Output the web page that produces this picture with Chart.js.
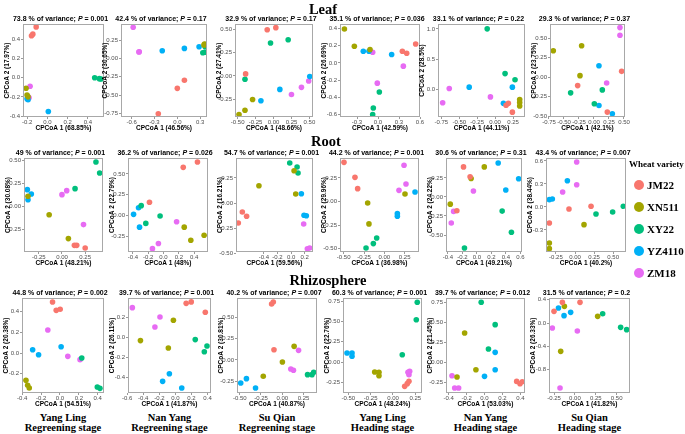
<!DOCTYPE html>
<html>
<head>
<meta charset="utf-8">
<script src="https://cdn.jsdelivr.net/npm/chart.js@4.4.1/dist/chart.umd.min.js"></script>
<style>
body { margin: 0; background: #fff; }
#wrap { position: relative; width: 685px; height: 434px; overflow: hidden; }
.panel { position: absolute; }
.sub { position: absolute; font: bold 7px "Liberation Sans", Arial, sans-serif; text-align: center; white-space: nowrap; line-height: 8px; }
.row { position: absolute; font: bold 14.5px "Liberation Serif", serif; text-align: center; width: 120px; line-height: 16px; }
.site { position: absolute; font: bold 10.5px "Liberation Serif", serif; text-align: center; width: 110px; line-height: 9.5px; }
.leg { position: absolute; font: bold 11px "Liberation Serif", serif; white-space: nowrap; line-height: 12px; }
.dot { position: absolute; width: 10px; height: 10px; border-radius: 50%; }
</style>
</head>
<body>
<div id="wrap"></div>
<script>
const varieties = ['JM22', 'XN511', 'XY22', 'YZ4110', 'ZM18'];
const colors = ['#F8766D', '#A3A500', '#00BF7D', '#00B0F6', '#E76BF3'];

const compartments = ['Leaf', 'Root', 'Rhizosphere'];
const sites = ['Yang Ling', 'Nan Yang', 'Su Qian', 'Yang Ling', 'Nan Yang', 'Su Qian'];
const stages = ['Regreening stage', 'Regreening stage', 'Regreening stage', 'Heading stage', 'Heading stage', 'Heading stage'];

// per variety: [[x, y], ...] in the order of varieties
const leafYLR = [
  [[-0.11, 0.53], [-0.143, 0.454], [-0.156, 0.437]],
  [[-0.21, -0.11], [-0.2, -0.18], [-0.19, -0.2]],
  [[0.468, 0.0], [0.514, -0.01], [0.53, -0.014]],
  [[-0.2, -0.22], [-0.19, -0.23], [0.01, -0.353]],
  [[-0.17, -0.09], [-0.18, -0.21], [-0.19, -0.2]]
];
const leafNYR = [
  [[0.093, -0.298], [0, -0.408], [-0.25, -0.757]],
  [[0.357, 0.197], [0.36, 0.19], [0.35, 0.185]],
  [[0.335, 0.078], [0.366, 0.16], [0.36, 0.085]],
  [[-0.198, 0.106], [0.093, 0.138], [0.286, 0.16]],
  [[-0.58, 0.427], [-0.5, 0.092], [-0.505, 0.09]]
];
const leafSQR = [
  [[-0.088, 0.496], [0.032, 0.518], [-0.389, 0.022]],
  [[-0.292, -0.252], [-0.398, -0.367], [-0.481, -0.414]],
  [[-0.042, 0.353], [0.204, 0.388], [-0.398, -0.036]],
  [[0.505, -0.007], [0.088, -0.144], [-0.176, -0.266]],
  [[0.49, -0.054], [0.389, -0.122], [0.25, -0.198]]
];
const leafYLH = [
  [[0.348, 0.135], [0.41, 0.112], [0.538, 0.219]],
  [[-0.48, 0.392], [-0.338, 0.192], [-0.114, 0.154]],
  [[0.019, -0.338], [-0.067, -0.523], [-0.076, -0.6]],
  [[-0.21, 0.135], [-0.129, 0.135], [0.195, 0.096]],
  [[-0.076, 0.123], [0.362, -0.038], [-0.01, -0.235]]
];
const leafNYH = [
  [[0.185, -0.223], [0.153, -0.255], [0.241, -0.367]],
  [[0.343, -0.16], [0.343, -0.266], [0.343, -0.21]],
  [[-0.11, 1.0], [0.139, 0.266], [0.278, 0.165]],
  [[-0.361, 0.043], [0.241, 0.043], [0.116, -0.223]],
  [[-0.639, 0.021], [-0.731, -0.213], [-0.065, -0.117]]
];
const leafSQH = [
  [[0.461, 0.076], [-0.272, -0.106], [0.222, -0.445]],
  [[-0.678, 0.339], [-0.206, 0.403], [-0.233, 0.021]],
  [[0.139, -0.161], [-0.389, -0.199], [0.006, -0.339]],
  [[0.083, 0.148], [0.083, -0.36], [0.306, -0.466]],
  [[0.433, 0.636], [0.433, 0.538], [0.211, -0.072]]
];
const rootYLR = [
  [[0.134, -0.429], [0.159, -0.429], [0.25, -0.458]],
  [[-0.366, 0.11], [-0.138, -0.092], [0.069, -0.355]],
  [[0.366, 0.487], [0.406, 0.366], [0.141, 0.194]],
  [[-0.373, 0.183], [-0.33, 0.136], [-0.366, 0.073]],
  [[0, 0.128], [0.051, 0.172], [0.232, -0.201]]
];
const rootNYR = [
  [[0.258, 0.578], [0.444, 0.643], [-0.184, 0.161]],
  [[0.271, -0.137], [0.531, -0.233], [0.357, -0.293]],
  [[-0.292, 0.12], [-0.045, -0.004], [-0.232, -0.092]],
  [[-0.392, 0.016], [-0.327, 0.096], [-0.314, -0.137]],
  [[0.171, -0.072], [-0.067, -0.333], [-0.145, -0.394]]
];
const rootSQR = [
  [[-0.717, -0.09], [-0.654, -0.133], [-0.776, -0.2]],
  [[0.044, 0.323], [-0.473, 0.173], [0.068, 0.09]],
  [[-0.02, 0.4], [0.088, 0.36], [0.102, 0.3]],
  [[0.151, 0.093], [0.19, -0.123], [0.224, -0.127]],
  [[0.185, -0.21], [0.239, -0.457], [0.273, -0.45]]
];
const rootYLH = [
  [[-0.496, 0.416], [-0.361, 0.257], [-0.328, 0.137]],
  [[0.254, 0.08], [-0.205, -0.015], [-0.189, -0.237]],
  [[-0.094, -0.386], [-0.135, -0.446], [-0.225, -0.492]],
  [[0.377, 0.101], [0.16, -0.128], [0.16, -0.156]],
  [[0.242, 0.385], [0.266, 0.186], [0.18, 0.119]]
];
const rootNYH = [
  [[-0.185, 0.394], [-0.094, 0.264], [-0.277, -0.182]],
  [[0.102, 0.394], [-0.08, 0.242], [-0.368, -0.095]],
  [[0.349, -0.186], [0.477, -0.463], [-0.172, -0.671]],
  [[0.294, 0.446], [0.577, 0.238], [0.399, 0.091]],
  [[-0.048, 0.078], [-0.322, -0.19], [-0.354, -0.342]]
];
const rootSQH = [
  [[0.21, 0.009], [-0.079, -0.026], [-0.336, -0.209]],
  [[0.118, -0.23], [-0.336, -0.47], [-0.336, -0.543]],
  [[0.275, -0.091], [0.493, -0.065], [0.633, 0.009]],
  [[-0.1, 0.343], [-0.297, 0.104], [-0.336, 0.096]],
  [[0.022, 0.587], [0.022, 0.291], [-0.162, 0.196]]
];
const rhizoYLR = [
  [[-0.079, 0.491], [-0.04, 0.411], [0.002, 0.421]],
  [[-0.361, -0.263], [-0.343, -0.311], [-0.326, -0.337]],
  [[0.231, -0.048], [0.396, -0.327], [0.424, -0.34]],
  [[-0.29, 0.032], [-0.227, -0.016], [0.012, 0.061]],
  [[-0.129, 0.222], [0.083, -0.032], [0.213, -0.064]]
];
const rhizoNYR = [
  [[0.134, 0.338], [0.197, 0.352], [0.372, 0.249]],
  [[-0.025, 0.169], [-0.435, -0.033], [-0.088, -0.106]],
  [[0.247, -0.023], [0.393, -0.086], [0.36, -0.143]],
  [[-0.075, -0.362], [-0.159, -0.438], [0.079, -0.504]],
  [[-0.536, 0.295], [-0.192, 0.202], [-0.255, 0.103]]
];
const rhizoSQR = [
  [[-0.105, 0.68], [-0.125, 0.656], [-0.097, 0.121]],
  [[0.14, 0.16], [0.002, -0.023], [-0.223, -0.191]],
  [[0.298, -0.172], [0.35, -0.172], [0.37, -0.145]],
  [[-0.488, -0.27], [-0.421, -0.219], [-0.314, -0.328]],
  [[0.192, 0.113], [0.101, -0.105], [0.132, -0.121]]
];
const rhizoYLH = [
  [[0.131, -0.299], [0.16, -0.266], [0.179, -0.238]],
  [[-0.205, -0.123], [-0.157, -0.168], [-0.157, -0.127]],
  [[0.272, 0.734], [0.261, 0.52], [0.104, 0.09]],
  [[-0.515, 0.111], [-0.459, 0.111], [-0.459, 0.07]],
  [[0.187, -0.115], [0.179, -0.156], [0.168, -0.127]]
];
const rhizoNYH = [
  [[0.359, -0.238], [0.396, -0.267], [0.422, -0.242]],
  [[-0.222, 0.367], [-0.096, -0.092], [-0.307, -0.183]],
  [[-0.037, 0.75], [0.119, 0.471], [0.044, 0.167]],
  [[0.119, 0.125], [0.119, -0.092], [0, -0.175]],
  [[-0.363, -0.167], [-0.333, -0.321], [-0.289, -0.321]]
];
const rhizoSQH = [
  [[-0.15, 0.354], [0.061, 0.354], [-0.25, 0.2]],
  [[-0.126, 0.286], [0.272, 0.114], [-0.17, -0.486]],
  [[0.332, 0.16], [0.547, -0.074], [0.619, -0.114]],
  [[-0.197, 0.257], [-0.051, 0.183], [-0.13, 0.126]],
  [[-0.27, -0.086], [0.029, -0.137], [-0.178, -1.114]]
];

const panels = [leafYLR, leafNYR, leafSQR, leafYLH, leafNYH, leafSQH,
                rootYLR, rootNYR, rootSQR, rootYLH, rootNYH, rootSQH,
                rhizoYLR, rhizoNYR, rhizoSQR, rhizoYLH, rhizoNYH, rhizoSQH];

const variance = ['73.8', '42.4', '32.9', '35.1', '33.1', '29.3',
                  '49', '36.2', '54.7', '44.2', '30.6', '43.4',
                  '44.8', '39.7', '40.2', '60.3', '39.7', '31.5'];
const pValues = ['0.001', '0.17', '0.17', '0.036', '0.22', '0.37',
                 '0.001', '0.026', '0.001', '0.001', '0.31', '0.007',
                 '0.002', '0.001', '0.007', '0.001', '0.012', '0.2'];
const pc1 = ['68.85', '46.56', '48.66', '42.59', '44.11', '42.1',
             '48.21', '48', '59.56', '36.98', '49.21', '40.2',
             '54.51', '41.87', '40.87', '48.24', '53.03', '41.82'];
const pc2 = ['17.97', '30.65', '27.41', '26.69', '28.5', '23.75',
             '30.08', '22.79', '16.21', '29.96', '24.22', '38.44',
             '20.38', '26.11', '30.81', '22.76', '21.45', '26.33'];

const xTicks = [
  [-0.2, 0, 0.2, 0.4], [-0.6, -0.3, 0, 0.3], [-0.5, -0.25, 0, 0.25, 0.5],
  [-0.3, 0, 0.3, 0.6], [-0.75, -0.5, -0.25, 0, 0.25], [-0.75, -0.5, -0.25, 0, 0.25, 0.5],
  [-0.25, 0, 0.25], [-0.4, -0.2, 0, 0.2, 0.4], [-0.4, -0.2, 0, 0.2],
  [-0.5, -0.25, 0, 0.25], [-0.4, -0.2, 0, 0.2, 0.4, 0.6], [-0.25, 0, 0.25, 0.5],
  [-0.4, -0.2, 0, 0.2, 0.4], [-0.6, -0.4, -0.2, 0, 0.2, 0.4], [-0.5, -0.25, 0, 0.25],
  [-0.5, -0.25, 0, 0.25], [-0.4, -0.2, 0, 0.2, 0.4], [-0.25, 0, 0.25, 0.5]
];
const yTicks = [
  [-0.4, -0.2, 0, 0.2, 0.4], [-0.75, -0.5, -0.25, 0, 0.25], [-0.25, 0, 0.25, 0.5],
  [-0.6, -0.4, -0.2, 0, 0.2, 0.4], [0, 0.5, 1], [-0.5, -0.25, 0, 0.25, 0.5],
  [-0.25, 0, 0.25, 0.5], [-0.25, 0, 0.25, 0.5], [-0.5, -0.25, 0, 0.25],
  [-0.5, -0.25, 0, 0.25], [-0.5, -0.25, 0, 0.25], [-0.3, 0, 0.3, 0.6],
  [-0.2, 0, 0.2, 0.4], [-0.4, -0.2, 0, 0.2], [-0.25, 0, 0.25, 0.5],
  [-0.25, 0, 0.25, 0.5, 0.75], [-0.25, 0, 0.25, 0.5, 0.75], [-0.8, -0.4, 0, 0.4]
];
const xLimits = [
  [-0.24, 0.56], [-0.74, 0.39], [-0.537, 0.55], [-0.543, 0.6], [-0.796, 0.417], [-0.733, 0.517],
  [-0.409, 0.442], [-0.465, 0.582], [-0.81, 0.322], [-0.545, 0.426], [-0.427, 0.623], [-0.38, 0.668],
  [-0.403, 0.467], [-0.59, 0.443], [-0.532, 0.409], [-0.56, 0.325], [-0.43, 0.452], [-0.31, 0.659]
];
const yLimits = [
  [-0.41, 0.56], [-0.8, 0.472], [-0.44, 0.557], [-0.627, 0.45], [-0.447, 1.08], [-0.508, 0.682],
  [-0.502, 0.531], [-0.434, 0.69], [-0.49, 0.45], [-0.535, 0.462], [-0.723, 0.511], [-0.587, 0.639],
  [-0.385, 0.53], [-0.554, 0.391], [-0.387, 0.727], [-0.381, 0.787], [-0.383, 0.804], [-1.2, 0.429]
];

// plot boxes in page pixels: left, top, right, bottom
const boxes = [
  [23, 24, 104, 117], [121, 24, 207, 117], [235, 24, 313, 117], [340, 24, 420, 117], [438, 24, 525, 117], [550, 24, 625, 117],
  [24, 158, 103, 252], [128, 158, 208, 252], [236, 158, 313, 252], [340, 158, 419, 252], [446, 158, 522, 252], [546, 158, 626, 252],
  [22, 298, 104, 393], [128, 298, 211, 393], [237, 298, 317, 393], [343, 298, 422, 393], [446, 298, 525, 393], [549, 298, 630, 393]
];

const YW = 20, XH = 15, PT = 5, PR = 8;
const sans = '"Liberation Sans", Arial, sans-serif';
const wrap = document.getElementById('wrap');

const frame = {
  id: 'frame',
  afterDraw(chart) {
    const a = chart.chartArea, c = chart.ctx;
    c.save();
    c.strokeStyle = '#a8a8a8';
    c.lineWidth = 1;
    c.strokeRect(a.left + 0.5, a.top + 0.5, a.right - a.left - 1, a.bottom - a.top - 1);
    c.restore();
  }
};

function axis(lim, ticks, title, horiz) {
  const dec = Math.max(...ticks.map(v => (String(v).split('.')[1] || '').length));
  return {
    type: 'linear',
    min: lim[0],
    max: lim[1],
    afterBuildTicks: s => { s.ticks = ticks.map(v => ({ value: v })); },
    afterFit: s => { if (horiz) s.height = XH; else s.width = YW; },
    ticks: { autoSkip: false, maxRotation: 0, padding: horiz ? 0 : 1, color: '#4d4d4d',
             font: { family: sans, size: 6 }, callback: v => v.toFixed(dec) },
    grid: { drawOnChartArea: false, tickLength: 2, color: '#555', lineWidth: 0.6 },
    border: { display: false },
    title: { display: true, text: title, color: '#000', padding: 0,
             font: { family: sans, size: 6.5, weight: 'bold' } }
  };
}

function makePanel(i) {
  const [l, t, r, b] = boxes[i];
  const div = document.createElement('div');
  div.className = 'panel';
  div.style.left = (l - YW) + 'px';
  div.style.top = (t - PT) + 'px';
  const cv = document.createElement('canvas');
  cv.width = r - l + YW + PR;
  cv.height = b - t + PT + XH;
  div.appendChild(cv);
  wrap.appendChild(div);

  const sub = document.createElement('div');
  sub.className = 'sub';
  sub.style.left = (l - 50) + 'px';
  sub.style.width = (r - l + 94) + 'px';
  sub.style.top = (t - 9.5) + 'px';
  sub.innerHTML = variance[i] + ' % of variance; <i>P</i> = ' + pValues[i];
  wrap.appendChild(sub);

  new Chart(cv, {
    type: 'scatter',
    data: {
      datasets: varieties.map((v, k) => ({
        label: v,
        data: panels[i][k].map(p => ({ x: p[0], y: p[1] })),
        backgroundColor: colors[k],
        borderWidth: 0,
        pointRadius: 2.8,
        pointHoverRadius: 2.8
      }))
    },
    options: {
      responsive: false,
      animation: false,
      layout: { padding: { top: PT, right: PR, left: 0, bottom: 0 } },
      plugins: { legend: { display: false }, tooltip: { enabled: false } },
      scales: {
        x: axis(xLimits[i], xTicks[i], 'CPCoA 1 (' + pc1[i] + '%)', true),
        y: axis(yLimits[i], yTicks[i], 'CPCoA 2 (' + pc2[i] + '%)', false)
      }
    },
    plugins: [frame]
  });
}

for (let i = 0; i < panels.length; i++) makePanel(i);

// row titles
const rowPos = [[323, 1], [326, 133], [328, 272]];
compartments.forEach((name, k) => {
  const d = document.createElement('div');
  d.className = 'row';
  d.style.left = (rowPos[k][0] - 60) + 'px';
  d.style.top = rowPos[k][1] + 'px';
  d.textContent = name;
  wrap.appendChild(d);
});

// site / stage labels under the last row
sites.forEach((s, k) => {
  const [l, , r] = boxes[12 + k];
  const d = document.createElement('div');
  d.className = 'site';
  d.style.left = ((l + r) / 2 - 55) + 'px';
  d.style.top = '413px';
  d.innerHTML = s + '<br>' + stages[k];
  wrap.appendChild(d);
});

// legend
const lt = document.createElement('div');
lt.className = 'leg';
lt.style.left = '629px';
lt.style.top = '158px';
lt.style.fontSize = '9px';
lt.textContent = 'Wheat variety';
wrap.appendChild(lt);
varieties.forEach((v, k) => {
  const y = 185 + k * 22;
  const dot = document.createElement('div');
  dot.className = 'dot';
  dot.style.background = colors[k];
  dot.style.left = '634px';
  dot.style.top = (y - 5) + 'px';
  wrap.appendChild(dot);
  const tx = document.createElement('div');
  tx.className = 'leg';
  tx.style.left = '647px';
  tx.style.top = (y - 6) + 'px';
  tx.textContent = v;
  wrap.appendChild(tx);
});
</script>
</body>
</html>
